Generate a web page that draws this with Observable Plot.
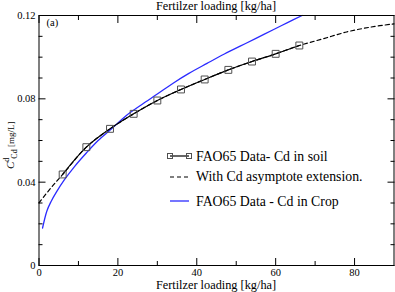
<!DOCTYPE html>
<html><head><meta charset="utf-8">
<script src="https://cdn.jsdelivr.net/npm/d3@7"></script>
<script src="https://cdn.jsdelivr.net/npm/@observablehq/plot@0.6"></script>
<style>
body{margin:0;background:#fff;}
#chart{width:395px;height:292px;}
</style></head><body><div id="chart"></div>
<script>
// FAO65 Data - Cd in soil (squares + solid line)
const soilX = [6, 12, 18, 24, 30, 36, 42, 48, 54, 60, 66];
const soilY = [0.0437, 0.0568, 0.0656, 0.0728, 0.0792, 0.0845, 0.0893, 0.0939, 0.0979, 0.1016, 0.1056];
// Asymptote extension (dashed) before and after the data
const leadX = [0, 3];
const leadY = [0.0301, 0.0372];
const tailX = [72, 78, 84, 90];
const tailY = [0.1088, 0.1121, 0.1144, 0.1160];
// FAO65 Data - Cd in Crop (blue)
const cropX = [0.9, 2, 3, 4.4, 6.5, 9, 12, 15, 18.4, 22, 26, 30, 34, 38, 42.6, 47, 51, 55, 59.5, 63, 66.7];
const cropY = [0.0180, 0.0262, 0.0305, 0.0352, 0.0413, 0.0475, 0.0540, 0.0600, 0.0656, 0.0718, 0.0772, 0.0823, 0.0875, 0.0922, 0.0970, 0.1015, 0.1053, 0.1090, 0.1133, 0.1166, 0.1200];
// Axis ticks
const xMajor = [0, 20, 40, 60, 80];
const xMinor = [10, 30, 50, 70];
const yMajor = [0, 0.04, 0.08, 0.12];
const yMinor = [0.01, 0.02, 0.03, 0.05, 0.06, 0.07, 0.09, 0.10, 0.11];
// Texts
const axisTitle = "Fertilzer loading [kg/ha]";
const panelTag = "(a)";
const legendLabels = ["FAO65 Data- Cd in soil", "With Cd asymptote extension.", "FAO65 Data - Cd in Crop"];

const soil = soilX.map((x, i) => ({x, y: soilY[i]}));
const ext = [...leadX.map((x, i) => ({x, y: leadY[i]})), ...soil, ...tailX.map((x, i) => ({x, y: tailY[i]}))];
const crop = cropX.map((x, i) => ({x, y: cropY[i]}));

const FONT = "'Liberation Serif','Times New Roman',serif";
const BLUE = "#2b2bff";
const fmtY = d => d === 0 ? "0" : d.toFixed(2);

const tickAxes = (fn, anchors, ticks, size) =>
  anchors.map(a => fn(ticks, {anchor: a, tickSize: -size, fill: "none", label: null, strokeWidth: 1}));

const svg = Plot.plot({
  width: 395, height: 292,
  marginLeft: 38.5, marginRight: 1.5, marginTop: 15, marginBottom: 27,
  x: {domain: [0, 90]},
  y: {domain: [0, 0.12]},
  style: {fontFamily: FONT, fontSize: "10.5px", background: "white", color: "black"},
  marks: [
    Plot.line(ext, {x: "x", y: "y", stroke: "black", strokeWidth: 1.2, strokeDasharray: "4,3", curve: "catmull-rom"}),
    Plot.line(crop, {x: "x", y: "y", stroke: BLUE, strokeWidth: 1.3, curve: "catmull-rom"}),
    Plot.line(soil, {x: "x", y: "y", stroke: "black", strokeWidth: 1.2, curve: "catmull-rom"}),
    Plot.dot(soil, {x: "x", y: "y", symbol: "square", r: 3.9, stroke: "#505050", fill: "none", strokeWidth: 1}),
    Plot.frame({stroke: "black", strokeWidth: 1}),
    ...tickAxes(Plot.axisX, ["bottom", "top"], xMajor, 7),
    ...tickAxes(Plot.axisX, ["bottom", "top"], xMinor, 4),
    ...tickAxes(Plot.axisY, ["left", "right"], yMajor, 7),
    ...tickAxes(Plot.axisY, ["left", "right"], yMinor, 4),
    Plot.axisX(xMajor, {anchor: "bottom", tickSize: 0, tickPadding: 3, label: null, fontSize: 10.5}),
    Plot.axisY(yMajor, {anchor: "left", tickSize: 0, tickPadding: 3.5, label: null, tickFormat: fmtY, fontSize: 10.5})
  ]
});
document.getElementById("chart").appendChild(svg);

const s = d3.select(svg);
const cx = (38.5 + 393.5) / 2;
const txt = (x, y, size, anchor) => s.append("text").attr("x", x).attr("y", y)
  .attr("text-anchor", anchor).attr("font-family", FONT).attr("font-size", size).attr("fill", "black");
// Axis titles top and bottom
txt(cx, 10, 12.3, "middle").text(axisTitle);
txt(cx, 288.5, 12.3, "middle").text(axisTitle);
// Panel tag
txt(46.5, 26, 10.5, "start").text(panelTag);
// Y label C^d_Cd [mg/L]
const yl = s.append("text").attr("transform", "translate(14,169) rotate(-90)").attr("text-anchor", "start")
  .attr("font-family", FONT).attr("fill", "black").attr("font-size", 11);
yl.append("tspan").text("C").attr("font-style", "italic");
yl.append("tspan").attr("font-size", 8).attr("dy", -5).text("d");
yl.append("tspan").attr("font-size", 8).attr("dy", 8).attr("dx", -1).text("Cd");
yl.append("tspan").attr("font-size", 9).attr("dy", -3).text("\u00a0[mg/L]");

// Legend
const rows = [156, 177, 201];
const textY = [160.5, 181, 205.5];
legendLabels.forEach((t, i) => txt(196, textY[i], 13.8, "start").text(t));
const lg = s.append("g");
lg.append("line").attr("x1", 170).attr("x2", 189).attr("y1", rows[0]).attr("y2", rows[0]).attr("stroke", "black").attr("stroke-width", 1.2);
[170, 189].forEach(x => lg.append("rect").attr("x", x - 2.5).attr("y", rows[0] - 2.5).attr("width", 5).attr("height", 5)
  .attr("fill", "none").attr("stroke", "#505050"));
lg.append("line").attr("x1", 170).attr("x2", 189).attr("y1", rows[1]).attr("y2", rows[1]).attr("stroke", "black")
  .attr("stroke-width", 1.2).attr("stroke-dasharray", "4,3");
lg.append("line").attr("x1", 170).attr("x2", 189).attr("y1", rows[2]).attr("y2", rows[2]).attr("stroke", BLUE).attr("stroke-width", 1.3);
</script></body></html>
